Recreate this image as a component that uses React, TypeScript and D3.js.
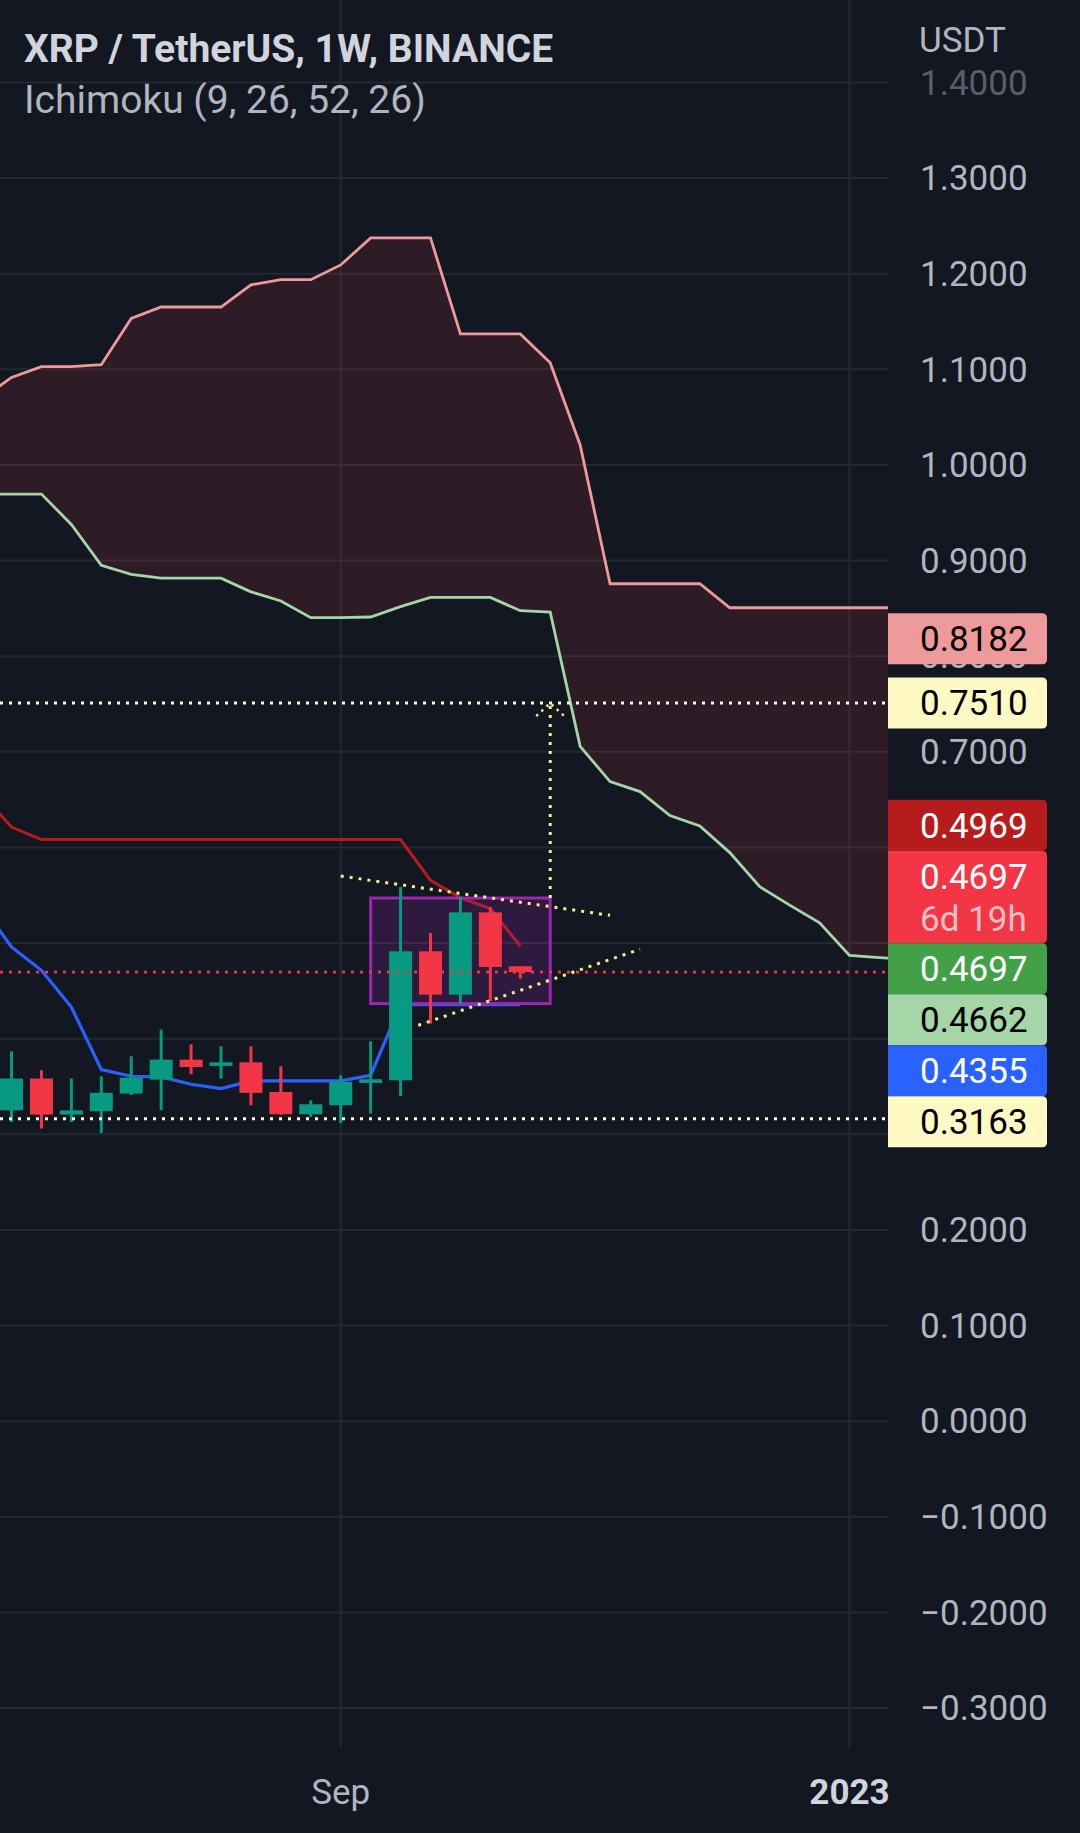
import React from "react";
import * as d3 from "d3";

const W = 1080;
const H = 1833;
const PANE_R = 888;
const PANE_B = 1748;
const WEEK = 7 * 24 * 3600 * 1000;

// weekly candles, first one = week of 2022-06-20
const candleStart = Date.UTC(2022, 5, 20);
const opens = [0.3251, 0.3583, 0.3206, 0.3241, 0.3426, 0.3572, 0.3781, 0.3715, 0.3753, 0.3443, 0.321, 0.3304, 0.3537, 0.3565, 0.4914, 0.4461, 0.5321, 0.4757];
const highs = [0.3868, 0.367, 0.3583, 0.3607, 0.3816, 0.4095, 0.3941, 0.392, 0.392, 0.3711, 0.3356, 0.3617, 0.3973, 0.5586, 0.5105, 0.5482, 0.5377, 0.476];
const lows = [0.3129, 0.306, 0.3129, 0.3014, 0.341, 0.3251, 0.3628, 0.3583, 0.3304, 0.3205, 0.3182, 0.3119, 0.3217, 0.3398, 0.4158, 0.4367, 0.4394, 0.4628];
const closes = [0.3583, 0.3206, 0.3251, 0.3433, 0.3593, 0.3781, 0.3704, 0.3753, 0.3433, 0.321, 0.3314, 0.3548, 0.3576, 0.4914, 0.4461, 0.5321, 0.475, 0.4697];

// ichimoku series start one week earlier (just off the left edge)
const lineStart = Date.UTC(2022, 5, 13);
const tenkan = [0.5395, 0.4959, 0.4715, 0.4331, 0.3677, 0.3607, 0.36, 0.3523, 0.3478, 0.3558, 0.3558, 0.3558, 0.3558, 0.3617, 0.4355, 0.4355, 0.4355, 0.4355, 0.4355];
const kijun = [0.656, 0.6213, 0.6082, 0.6082, 0.6082, 0.6082, 0.6082, 0.6082, 0.6082, 0.6082, 0.6082, 0.6082, 0.6082, 0.6082, 0.6082, 0.5656, 0.5473, 0.536, 0.4969];
const spanA = [0.9695, 0.9695, 0.9695, 0.9378, 0.8951, 0.8855, 0.8816, 0.8816, 0.8816, 0.8673, 0.8577, 0.8403, 0.8403, 0.841, 0.8518, 0.8615, 0.8615, 0.8615, 0.8476, 0.8461, 0.7057, 0.6689, 0.6584, 0.6333, 0.6225, 0.5946, 0.559, 0.5397, 0.5211, 0.4871, 0.4848, 0.483];
const spanB = [1.0691, 1.0915, 1.1029, 1.1029, 1.1049, 1.1532, 1.1652, 1.1652, 1.1652, 1.1884, 1.1938, 1.1938, 1.2092, 1.2375, 1.2375, 1.2375, 1.137, 1.137, 1.137, 1.1068, 1.0209, 0.8758, 0.8758, 0.8758, 0.8758, 0.8507, 0.8507, 0.8507, 0.8507, 0.8507, 0.8507, 0.8507];

const priceTicks = [1.4, 1.3, 1.2, 1.1, 1.0, 0.9, 0.8, 0.7, 0.6, 0.5, 0.4, 0.3, 0.2, 0.1, 0.0, -0.1, -0.2, -0.3];
const timeTicks = [
  { date: Date.UTC(2022, 8, 5), label: "Sep", bold: false },
  { date: Date.UTC(2023, 0, 2), label: "2023", bold: true },
];

// drawings (week index from candleStart, price)
const hLines = [0.751, 0.3163];
const boxWeeks = [12, 18];
const boxPrices = [0.5471, 0.4367];
const upperTrend = [[11, 0.5701], [20, 0.529]];
const lowerTrend = [[13.59, 0.414], [21, 0.4935]];
const arrowWeek = 18;
const arrowPrices = [0.5471, 0.751];

// right-axis value labels
const labelValues = [0.8182, 0.751, 0.4969, 0.4697, 0.4697, 0.4662, 0.4355, 0.3163];
const labelFills = ["#EF9A9A", "#FFF9C4", "#B71C1C", "#F23645", "#43A047", "#A5D6A7", "#2962FF", "#FFF9C4"];
const labelInks = ["#000000", "#000000", "#FFFFFF", "#FFFFFF", "#FFFFFF", "#000000", "#FFFFFF", "#000000"];
const labelSubs = ["", "", "", "6d 19h", "", "", "", ""];

const FONT = "Roboto, sans-serif";
const fmt = d3.format(".4f");

// stack overlapping labels, each cluster placed at the median of its wanted positions
function layoutLabels(targets: number[], heights: number[]) {
  const order = targets.map((_, i) => i).sort((a, b) => targets[a] - targets[b]);
  const blocks: { idx: number[]; top: number; height: number }[] = [];
  for (const i of order) {
    blocks.push({ idx: [i], top: targets[i] - heights[i] / 2, height: heights[i] });
    while (blocks.length > 1) {
      const b = blocks[blocks.length - 1];
      const a = blocks[blocks.length - 2];
      if (a.top + a.height <= b.top) break;
      const idx = [...a.idx, ...b.idx];
      let off = 0;
      const wanted: number[] = [];
      for (const j of idx) {
        wanted.push(targets[j] - (off + heights[j] / 2));
        off += heights[j];
      }
      blocks.splice(blocks.length - 2, 2, { idx, top: d3.median(wanted) as number, height: off });
    }
  }
  const tops: number[] = new Array(targets.length);
  for (const b of blocks) {
    let off = b.top;
    for (const j of b.idx) {
      tops[j] = off;
      off += heights[j];
    }
  }
  return tops;
}

function labelPath(top: number, h: number) {
  const l = PANE_R, r = 1047, k = 5, b = top + h;
  return `M${l},${top}H${r - k}Q${r},${top} ${r},${top + k}V${b - k}Q${r},${b} ${r - k},${b}H${l}Z`;
}

export default function App() {
  const x = d3.scaleUtc().domain([candleStart, candleStart + 28 * WEEK]).range([11.5, 849.5]);
  const y = d3.scaleLinear().domain([-0.3, 1.4]).range([1708, 82.5]);
  const wk = (i: number) => candleStart + i * WEEK;
  const bodyW = 23;

  const seriesLine = d3
    .line<number>()
    .x((_, i) => x(lineStart + i * WEEK))
    .y((d) => y(d));
  const cloud = d3
    .area<number>()
    .x((_, i) => x(lineStart + i * WEEK))
    .y0((_, i) => y(spanA[i]))
    .y1((d) => y(d));

  const heights = labelValues.map((_, i) => (labelSubs[i] ? 92.5 : 51));
  const tops = layoutLabels(labelValues.map((v) => y(v)), heights);
  // tick labels that sit completely under the value labels are not drawn
  const underLabel = (p: number) => tops.some((t, i) => p >= t && p <= t + heights[i]);
  const shownTicks = priceTicks.filter((t) => !(underLabel(y(t) - 12) && underLabel(y(t) + 12)));

  const dots = { strokeDasharray: "3 6", strokeWidth: 3, fill: "none" };
  const arrowTipX = x(wk(arrowWeek));
  const arrowTipY = y(arrowPrices[1]);

  return (
    <svg width={W} height={H} style={{ display: "block", background: "#131722" }} fontFamily={FONT}>
      <style>{`body{margin:0;background:#131722}`}</style>
      <defs>
        <clipPath id="pane">
          <rect x={0} y={0} width={PANE_R} height={PANE_B} />
        </clipPath>
      </defs>
      <rect width={W} height={H} fill="#131722" />

      {/* grid */}
      <g stroke="#242833" strokeWidth={2}>
        {priceTicks.map((t) => (
          <line key={t} x1={0} x2={PANE_R} y1={y(t)} y2={y(t)} />
        ))}
        {timeTicks.map((t) => (
          <line key={t.label} x1={x(t.date)} x2={x(t.date)} y1={0} y2={PANE_B} />
        ))}
      </g>

      <g clipPath="url(#pane)">
        <path d={cloud(spanB) || ""} fill="rgba(242,54,69,0.12)" />
        <path d={seriesLine(spanA) || ""} fill="none" stroke="#A5D6A7" strokeWidth={2.8} />
        <path d={seriesLine(spanB) || ""} fill="none" stroke="#EF9A9A" strokeWidth={2.8} />
        <path d={seriesLine(kijun) || ""} fill="none" stroke="#B71C1C" strokeWidth={3} />
        <path d={seriesLine(tenkan) || ""} fill="none" stroke="#2962FF" strokeWidth={3.2} />

        <rect
          x={x(wk(boxWeeks[0]))}
          y={y(boxPrices[0])}
          width={x(wk(boxWeeks[1])) - x(wk(boxWeeks[0]))}
          height={y(boxPrices[1]) - y(boxPrices[0])}
          fill="rgba(156,39,176,0.2)"
          stroke="#9C27B0"
          strokeWidth={3}
        />

        {closes.map((c, i) => {
          const o = opens[i];
          const cx = x(wk(i));
          const col = c >= o ? "#089981" : "#F23645";
          const top = y(Math.max(o, c));
          const bh = Math.max(2, Math.abs(y(o) - y(c)));
          return (
            <g key={i} fill={col}>
              <rect x={cx - 1.5} width={3} y={y(highs[i])} height={y(lows[i]) - y(highs[i])} />
              <rect x={cx - bodyW / 2} width={bodyW} y={top} height={bh} />
            </g>
          );
        })}

        {hLines.map((v) => (
          <line key={v} x1={0} x2={PANE_R} y1={y(v)} y2={y(v)} stroke="#FFFBD8" {...dots} />
        ))}
        <line
          x1={0}
          x2={PANE_R}
          y1={y(closes[closes.length - 1])}
          y2={y(closes[closes.length - 1])}
          stroke="#F23645"
          strokeWidth={2.8}
          strokeDasharray="3 6"
        />
        {[upperTrend, lowerTrend].map((tl, k) => (
          <line
            key={k}
            x1={x(wk(tl[0][0]))}
            y1={y(tl[0][1])}
            x2={x(wk(tl[1][0]))}
            y2={y(tl[1][1])}
            stroke="#F7EF8A"
            {...dots}
          />
        ))}
        <line
          x1={arrowTipX}
          x2={arrowTipX}
          y1={y(arrowPrices[0])}
          y2={arrowTipY}
          stroke="#F7EF8A"
          {...dots}
        />
        <path
          d={`M${arrowTipX - 14},${arrowTipY + 13}L${arrowTipX},${arrowTipY}L${arrowTipX + 14},${arrowTipY + 13}`}
          stroke="#F7EF8A"
          {...dots}
          strokeDasharray="2.5 4.5"
          strokeWidth={2.5}
        />
      </g>

      {/* price axis */}
      <g fontSize={35} fill="#B2B5BE">
        {shownTicks.map((t) => (
          <text key={t} x={920} y={y(t)} dy="0.35em" opacity={t === priceTicks[0] ? 0.45 : 1}>
            {fmt(t)}
          </text>
        ))}
      </g>
      {labelValues.map((v, i) => {
        const top = tops[i];
        const h = heights[i];
        return (
          <g key={i}>
            <path d={labelPath(top, h)} fill={labelFills[i]} />
            {labelSubs[i] ? (
              <>
                <text x={920} y={top + h / 2 - 20} dy="0.35em" fontSize={35} fill={labelInks[i]}>
                  {fmt(v)}
                </text>
                <text x={920} y={top + h / 2 + 22} dy="0.35em" fontSize={35} fill="rgba(255,255,255,0.7)">
                  {labelSubs[i]}
                </text>
              </>
            ) : (
              <text x={920} y={top + h / 2} dy="0.35em" fontSize={35} fill={labelInks[i]}>
                {fmt(v)}
              </text>
            )}
          </g>
        );
      })}
      <text x={919} y={52} fontSize={35} fill="#B2B5BE">
        USDT
      </text>

      {/* time axis */}
      {timeTicks.map((t) => (
        <text
          key={t.label}
          x={x(t.date)}
          y={1804}
          textAnchor="middle"
          fontSize={35}
          fontWeight={t.bold ? 700 : 400}
          fill={t.bold ? "#D1D4DC" : "#B2B5BE"}
        >
          {t.label}
        </text>
      ))}

      {/* legend */}
      <text x={24} y={62} fontSize={39} fontWeight={700} fill="#D1D4DC">
        XRP / TetherUS, 1W, BINANCE
      </text>
      <text x={24} y={113} fontSize={39} fill="#B2B5BE">
        Ichimoku (9, 26, 52, 26)
      </text>
    </svg>
  );
}
